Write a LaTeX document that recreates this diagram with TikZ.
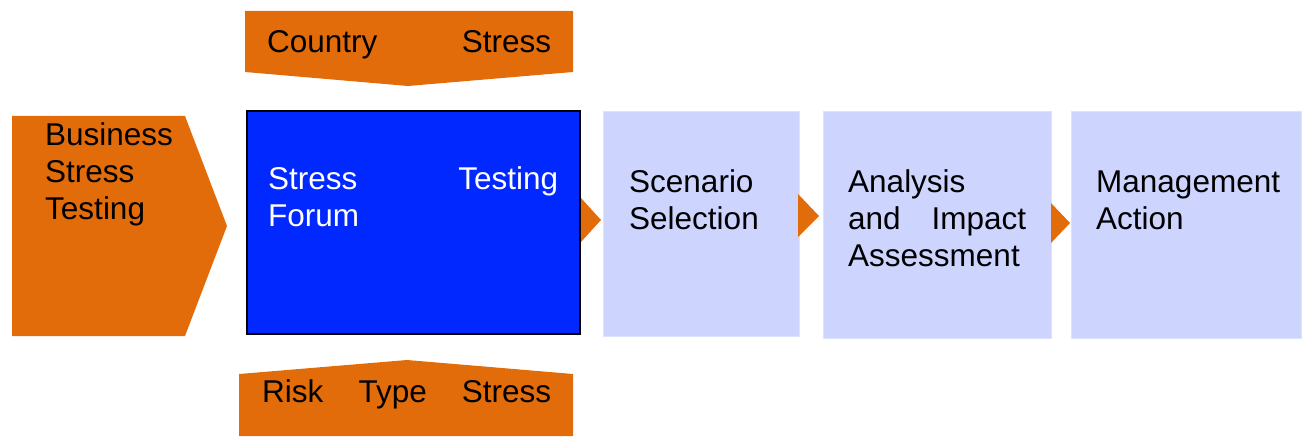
\documentclass[tikz,border=0pt]{standalone}
\usepackage{fontspec}
\setmainfont{Liberation Sans}
\definecolor{stressorange}{RGB}{227,108,10}
\definecolor{forumblue}{RGB}{0,40,255}
\definecolor{steplilac}{RGB}{205,213,255}
\tikzset{
  feeder/.style={fill=stressorange, draw=none},
  tip/.style={fill=stressorange, draw=none},
  forumbox/.style={draw=black, line width=1.5pt, fill=forumblue, inner sep=0pt},
  stagebox/.style={draw=steplilac!70!white, line width=0.6pt, fill=steplilac, inner sep=0pt},
  label/.style={inner sep=0pt, anchor=base west, font=\fontsize{31.5}{36.8}\selectfont},
}
\begin{document}
\begin{tikzpicture}[x=1pt, y=-1pt]
\useasboundingbox (0,0) rectangle (1303,438);

% orange feeder shapes
\path[feeder] (245,11) -- (573,11) -- (573,72) -- (408,86) -- (245,72) -- cycle;
\path[feeder] (239,374) -- (407,360) -- (573,374) -- (573,436) -- (239,436) -- cycle;
\path[feeder] (12,116) -- (185,116) -- (227,226) -- (185,336) -- (12,336) -- cycle;

% process boxes
\node[forumbox, minimum width=333pt, minimum height=223pt] (forum) at (413.5,222.5) {};
\node[stagebox, minimum width=196pt, minimum height=225pt] (scenario) at (701,223.5) {};
\node[stagebox, minimum width=228pt, minimum height=227pt] (analysis) at (937,224.5) {};
\node[stagebox, minimum width=230pt, minimum height=227pt] (action) at (1186,224.5) {};

% small arrow heads between the stages
\path[tip] (581,198) -- (601,220) -- (581,242) -- cycle;
\path[tip] (798,194) -- (819,216) -- (798,237) -- cycle;
\path[tip] (1051,203) -- (1070,223) -- (1051,243) -- cycle;

% texts
\node[label] (country) at (267,53) {\makebox[284pt][l]{Country\hfill Stress}};
\node[label] (risk) at (262,402) {\makebox[289pt][l]{Risk\hfill Type\hfill Stress}};
\node[label] (business) at (45,146) {\parbox[t]{170pt}{Business\\Stress\\Testing}};
\node[label, text=white] (forumtext) at (268,190) {\parbox[t]{290pt}{Stress\hfill Testing\\Forum}};
\node[label] (scenariotext) at (629,193) {\parbox[t]{165pt}{Scenario\\Selection}};
\node[label] (analysistext) at (848,193) {\parbox[t]{178pt}{Analysis\\and\hfill Impact\\Assessment}};
\node[label] (actiontext) at (1096,193) {\parbox[t]{200pt}{Management\\Action}};
\end{tikzpicture}
\end{document}
